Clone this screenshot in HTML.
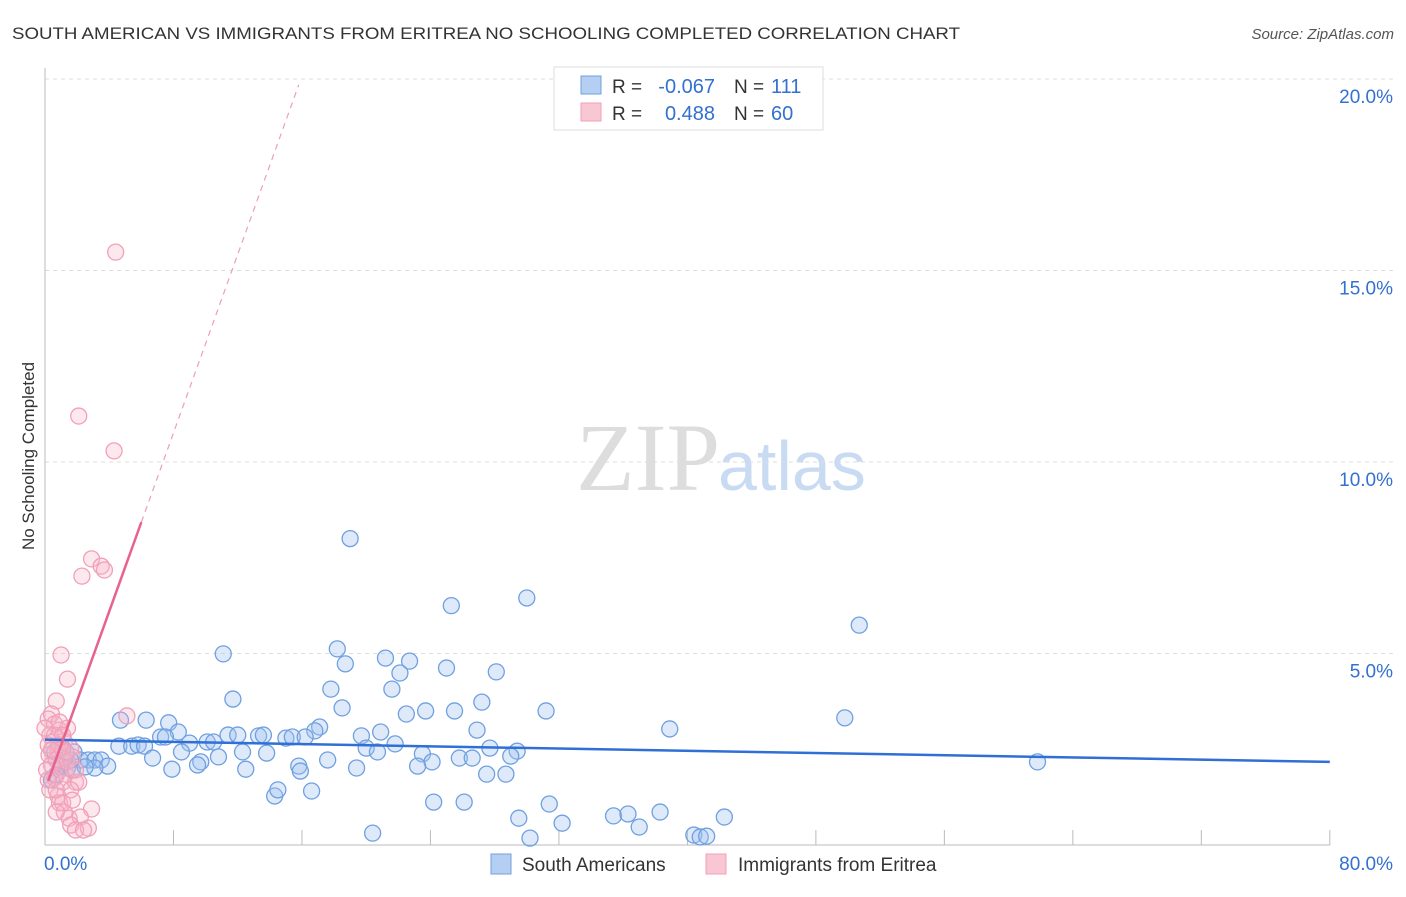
<!DOCTYPE html>
<html><head><meta charset="utf-8"><style>
body{margin:0;background:#fff;font-family:"Liberation Sans",sans-serif}
</style></head><body>
<svg width="1406" height="892" xmlns="http://www.w3.org/2000/svg" font-family="Liberation Sans, sans-serif">
<text x="12" y="39" font-size="17" fill="#333" textLength="948" lengthAdjust="spacingAndGlyphs">SOUTH AMERICAN VS IMMIGRANTS FROM ERITREA NO SCHOOLING COMPLETED CORRELATION CHART</text>
<text x="1394" y="39" font-size="15" fill="#555" font-style="italic" text-anchor="end">Source: ZipAtlas.com</text>
<text x="720" y="490" font-size="96" fill="#ddd" font-family="Liberation Serif, serif" text-anchor="end">ZIP</text>
<text x="718" y="490" font-size="70" fill="#c9dbf2">atlas</text>
<g id="grid"></g><g id="axes"></g><g id="marks"></g>
<text x="34" y="456" font-size="17" fill="#333" transform="rotate(-90 34 456)" text-anchor="middle">No Schooling Completed</text>
<g>
<rect x="554" y="67" width="269" height="63" fill="#fff" stroke="#ddd"/>
<rect x="581" y="76" width="20" height="18" fill="#b4cff2" stroke="#6fa0e0"/>
<rect x="581" y="103" width="20" height="18" fill="#f9c6d4" stroke="#f0a0b8"/>
<text x="612" y="93" font-size="19" fill="#333">R =</text>
<text x="715" y="93" font-size="20" fill="#3370d0" text-anchor="end">-0.067</text>
<text x="734" y="93" font-size="19" fill="#333">N =</text>
<text x="771" y="93" font-size="20" fill="#3370d0">111</text>
<text x="612" y="120" font-size="19" fill="#333">R =</text>
<text x="715" y="120" font-size="20" fill="#3370d0" text-anchor="end">0.488</text>
<text x="734" y="120" font-size="19" fill="#333">N =</text>
<text x="771" y="120" font-size="20" fill="#3370d0">60</text>
</g>
<g>
<rect x="491" y="854" width="20" height="20" fill="#b4cff2" stroke="#6fa0e0"/>
<text x="522" y="871" font-size="19" fill="#333">South Americans</text>
<rect x="706" y="854" width="20" height="20" fill="#f9c6d4" stroke="#f0a0b8"/>
<text x="738" y="871" font-size="19" fill="#333">Immigrants from Eritrea</text>
</g>
</svg>
<script>
const yTicks=[5,10,15,20];
const yTickLabels=["5.0%","10.0%","15.0%","20.0%"];
const xTickLabels=["0.0%","80.0%"];
const blueX=[19.0,25.3,30.0,50.7,11.1,18.2,18.7,21.2,22.7,22.1,25.0,28.1,17.8,21.6,11.7,27.2,18.5,22.5,23.7,25.5,31.2,49.8,38.9,4.7,6.3,7.7,8.3,17.1,16.8,20.9,26.9,7.2,7.5,11.4,12.0,13.3,13.6,15.0,15.4,16.2,19.7,4.6,5.4,5.8,6.2,9.0,10.1,10.5,12.3,13.8,21.8,20.0,20.7,27.7,29.4,29.0,23.5,24.1,25.8,26.6,23.2,61.8,0.6,1.1,1.8,2.2,2.7,3.1,3.5,3.9,3.1,1.0,1.4,1.7,0.4,0.7,6.7,8.5,9.7,10.8,9.5,7.9,12.5,15.8,15.9,17.6,19.4,27.5,28.7,14.3,14.5,16.6,24.2,26.1,31.4,29.5,32.2,35.4,36.3,37.0,38.3,42.3,40.4,40.8,41.2,20.4,30.2,0.7,2.5,1.6];
const blueY=[8.0,6.25,6.45,5.74,4.99,5.12,4.73,4.88,4.80,4.49,4.62,4.52,4.07,4.07,3.81,3.73,3.58,3.42,3.50,3.50,3.50,3.32,3.03,3.26,3.26,3.19,2.95,3.08,2.98,2.95,3.00,2.82,2.82,2.87,2.87,2.85,2.87,2.79,2.82,2.82,2.85,2.58,2.58,2.61,2.58,2.66,2.69,2.69,2.43,2.40,2.64,2.53,2.43,2.53,2.45,2.32,2.38,2.17,2.27,2.27,2.06,2.17,2.43,2.53,2.43,2.22,2.22,2.22,2.22,2.06,2.01,2.09,2.01,1.96,1.70,1.83,2.27,2.43,2.17,2.30,2.09,1.98,1.98,2.06,1.93,2.22,2.01,1.85,1.85,1.28,1.44,1.41,1.12,1.12,1.07,0.70,0.57,0.76,0.81,0.47,0.86,0.73,0.26,0.21,0.23,0.31,0.18,2.22,2.04,2.22];
const pinkX=[4.4,2.1,4.3,2.9,3.5,3.7,2.3,1.0,1.4,0.7,5.1,0.4,0.2,0.6,1.4,0.9,0.3,0.5,1.2,1.6,0.8,0.25,1.1,1.7,0.4,0.9,1.3,0.6,1.1,1.9,2.1,1.6,0.8,0.9,2.9,1.2,1.5,2.2,1.6,2.7,1.9,1.1,0.7,0.2,0.6,0.1,0.9,1.4,0.3,0.7,1.7,0.9,1.9,0.0,1.3,0.4,0.2,1.1,0.7,2.4];
const pinkY=[15.48,11.2,10.29,7.47,7.28,7.18,7.02,4.96,4.33,3.76,3.37,3.42,3.29,3.16,3.05,3.00,2.87,2.69,2.72,2.53,2.48,2.35,2.27,2.30,2.09,1.96,1.85,1.75,1.64,1.64,1.64,1.44,1.28,1.10,0.94,0.86,0.70,0.73,0.52,0.44,0.39,1.10,2.22,2.61,2.87,1.96,2.61,2.17,1.44,0.86,1.17,3.21,1.96,3.05,2.43,2.48,1.70,2.87,1.44,0.39];
const blueTrend=[2.75,2.17];
const pinkTrend=[1.44,1.165]; // intercept, slope
const NS="http://www.w3.org/2000/svg";
const X=v=>45+v*16.06, Y=v=>845-v*38.3;
function mk(tag,attrs,parent){const e=document.createElementNS(NS,tag);for(const k in attrs)e.setAttribute(k,attrs[k]);parent.appendChild(e);return e;}
const grid=document.getElementById('grid'),axes=document.getElementById('axes'),marks=document.getElementById('marks');
yTicks.forEach((t,i)=>{
 const l=mk('line',{x1:45,x2:1394,y1:Y(t),y2:Y(t),stroke:'#ddd','stroke-dasharray':'4,4'},grid);
 
 
 const tx=mk('text',{x:1393,y:Y(t)+24,'font-size':19,fill:'#3370d0','text-anchor':'end'},axes);
 tx.textContent=yTickLabels[i];
 
 
});
let a=mk('line',{x1:45,x2:45,y1:68,y2:845,stroke:'#bbb'},axes);


a=mk('line',{x1:45,x2:1330,y1:845,y2:845,stroke:'#bbb'},axes);


for(let i=1;i<=10;i++){const t=mk('line',{x1:X(i*8),x2:X(i*8),y1:830,y2:845,stroke:'#bbb'},axes);
 
 }
let tl=mk('text',{x:44,y:870,'font-size':19,fill:'#3370d0'},axes);tl.textContent=xTickLabels[0];


tl=mk('text',{x:1393,y:870,'font-size':19,fill:'#3370d0','text-anchor':'end'},axes);tl.textContent=xTickLabels[1];


blueX.forEach((x,i)=>{const c=mk('circle',{cx:X(x),cy:Y(blueY[i]),r:8,fill:'rgba(160,196,240,0.35)',stroke:'#6fa0e0','stroke-width':1.3},marks);
 
 });
pinkX.forEach((x,i)=>{const c=mk('circle',{cx:X(x),cy:Y(pinkY[i]),r:8,fill:'rgba(248,180,200,0.3)',stroke:'#f0a0b8','stroke-width':1.3},marks);
 
 });
let t=mk('line',{x1:X(0),y1:Y(blueTrend[0]),x2:X(80),y2:Y(blueTrend[1]),stroke:'#2f6fd6','stroke-width':2.5},marks);


const pf=x=>pinkTrend[0]+pinkTrend[1]*x;
t=mk('line',{x1:X(0.2),y1:Y(pf(0.2)),x2:X(6),y2:Y(pf(6)),stroke:'#e8628e','stroke-width':2.5},marks);


t=mk('line',{x1:X(6),y1:Y(pf(6)),x2:X(15.8),y2:Y(pf(15.8)),stroke:'#eaa0b8','stroke-width':1.2,'stroke-dasharray':'6,5'},marks);


</script>
</body></html>
